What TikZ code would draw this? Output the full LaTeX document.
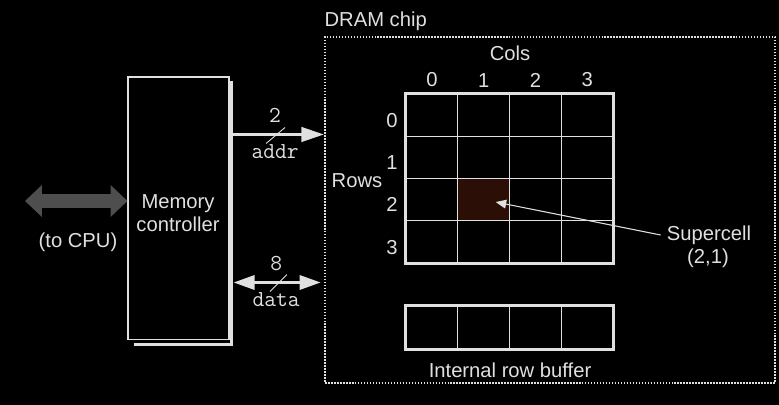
\documentclass[tikz,border=0pt]{standalone}
\usepackage{fontspec}
\setmainfont{Liberation Sans}
\usetikzlibrary{arrows.meta,positioning}
\definecolor{fg}{HTML}{E0E0E0}
\definecolor{cpugray}{HTML}{4E4E4E}
\definecolor{superfill}{HTML}{2B0F06}
\begin{document}
\begin{tikzpicture}[x=0.02cm,y=-0.02cm,
    lbl/.style={text=fg,font=\fontsize{11.5}{13}\selectfont},
    code/.style={text=fg,font=\ttfamily\fontsize{13}{14}\selectfont},
    cellbox/.style={draw=fg,line width=0.6pt,minimum width=1.035cm,minimum height=0.85cm,inner sep=0pt},
    bus/.style={fg,line width=2.2pt,-{Triangle[length=13pt,width=8pt]}},
    slash/.style={fg,line width=0.5pt}]
        %% background
        \fill[black] (0,0) rectangle (779,405);
        \useasboundingbox (0,0) rectangle (779,405);
        %% memory controller
        \node[draw=fg,line width=0.6pt,minimum width=2.02cm,minimum height=5.26cm] (mc) at (178.5,208.5) {};
        \draw[fg,line width=1.8pt] (mc.north east) ++(1.6,5) -- ++(0,262.6) -- ++(-97,0);
        \node[lbl,align=center] at (178,213) {Memory\\controller};
        %% to cpu
        \coordinate (cpu) at (25,201);
        \draw[cpugray,line width=8.5pt,{Triangle[length=9.6pt,width=17.6pt]}-{Triangle[length=9.6pt,width=17.6pt]}] (cpu) -- (cpu -| mc.west);
        \node[lbl] at (78,242) {(to CPU)};
        %% dram chip
        \node[draw=fg,line width=0.9pt,dash pattern=on 0.9pt off 0.8pt,minimum width=9cm,minimum height=6.92cm] (chip) at (550,210) {};
        \node[lbl,anchor=south west,inner sep=0pt] at ([yshift=3pt]chip.north west) {DRAM chip};
        %% addr and data
        \path (mc.north east) ++(2,58) coordinate (addr-mc);
        \draw[bus] (addr-mc) -- (addr-mc -| chip.west)
            coordinate[pos=0.48] (addr-mid)
            node[code,pos=0.47,yshift=11pt] {2}
            node[code,pos=0.47,yshift=-10pt] {addr};
        \draw[slash] (addr-mid) ++(-10,9) -- ++(19,-16);
        \path (mc.north east) ++(4,206) coordinate (data-mc);
        \draw[fg,line width=1.8pt,{Triangle[length=12pt,width=8pt]}-{Triangle[length=12pt,width=8pt]},shorten >=2pt] (data-mc) -- (data-mc -| chip.west)
            coordinate[pos=0.5] (data-mid)
            node[code,pos=0.47,yshift=11pt] {8}
            node[code,pos=0.47,yshift=-10pt] {data};
        \draw[slash] (data-mid) ++(-9,9) -- ++(17,-17);
        %% cell array
        \foreach \r in {0,...,3}
            \foreach \c in {0,...,3}
                \node[cellbox] (cell-\r-\c) at ({406+51.75*(\c+0.5)},{94+42.25*(\r+0.5)}) {};
        \node[cellbox,fill=superfill] at (cell-2-1) {};
        \draw[fg,line width=1.4pt] (cell-0-0.north west) rectangle (cell-3-3.south east);
        \foreach \c in {0,...,3}
            \node[lbl,above=0pt of cell-0-\c] (colnum-\c) {\c};
        \foreach \r in {0,...,3}
            \node[lbl,left=1pt of cell-\r-0,yshift=-3pt] (rownum-\r) {\r};
        \node[lbl,anchor=south] at (cell-0-1.north east |- colnum-1.north) {Cols};
        \node[lbl,anchor=east] at ([shift={(-17,2)}]cell-1-0.south west) {Rows};
        %% supercell
        \node[lbl] (sc-lbl) at (709,235) {Supercell};
        \node[lbl] at (708,258) {(2,1)};
        \draw[fg,line width=0.6pt,-{Triangle[length=6pt,width=5pt]},shorten >=7pt] (sc-lbl.west) -- (cell-2-1.center);
        %% row buffer
        \foreach \c in {0,...,3}
            \node[cellbox] (buf-\c) at ({406+51.75*(\c+0.5)},327.5) {};
        \draw[fg,line width=1.4pt] (buf-0.north west) rectangle (buf-3.south east);
        \node[lbl,below=4pt of buf-1.south east] {Internal row buffer};
    \end{tikzpicture}
\end{document}
